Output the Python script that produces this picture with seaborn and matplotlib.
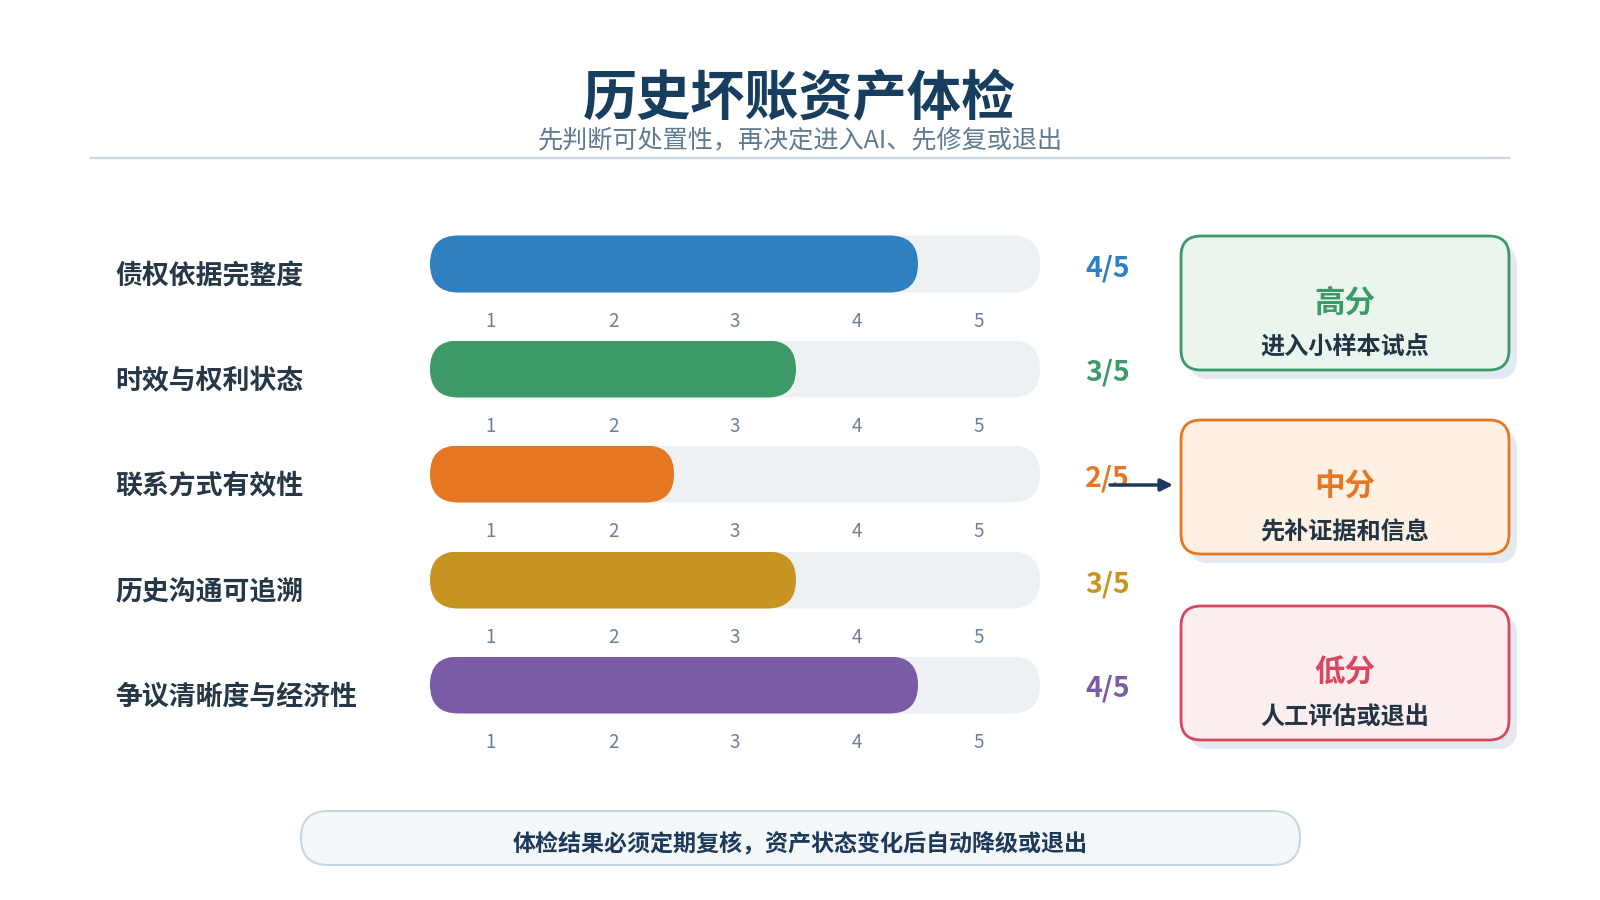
#!/usr/bin/env python3

import matplotlib
matplotlib.use("Agg")
import matplotlib.pyplot as plt
from matplotlib.patches import FancyBboxPatch
import seaborn as sns


title = "历史坏账资产体检"
subtitle = "先判断可处置性，再决定进入AI、先修复或退出"
criteria = ["债权依据完整度", "时效与权利状态", "联系方式有效性", "历史沟通可追溯", "争议清晰度与经济性"]
scores = [4, 3, 2, 3, 4]
max_score = 5
bar_colors = ["#2f80c0", "#3d9a68", "#e67722", "#c89421", "#7b5ba5"]
tiers = ["高分", "中分", "低分"]
tier_actions = ["进入小样本试点", "先补证据和信息", "人工评估或退出"]
tier_edges = ["#3d9a68", "#e67722", "#d9475f"]
tier_fills = ["#e9f5ed", "#fef1e4", "#fcedef"]
footer = "体检结果必须定期复核，资产状态变化后自动降级或退出"

sns.set_theme(style="white")
plt.rcParams["font.family"] = ["Noto Sans CJK SC", "DejaVu Sans"]

W, H = 1600, 900
track_left, track_w, bar_h = 430, 610, 57
row_centers = [264, 369, 474, 580, 685]
track_color = "#edf1f4"
dark = "#263747"
navy = "#173d5f"

fig = plt.figure(figsize=(16, 9), dpi=100)
fig.patch.set_facecolor("white")

# overlay in pixel units for decoration
deco = fig.add_axes([0, 0, 1, 1], zorder=0)
deco.set_xlim(0, W)
deco.set_ylim(H, 0)
deco.axis("off")

deco.text(799, 100, title, ha="center", va="center", fontsize=39, fontweight="bold", color=navy)
deco.text(800, 140, subtitle, ha="center", va="center", fontsize=18.1, color="#607a92")
deco.plot([90, 1510], [158, 158], color="#cbd8e3", lw=1.6)

px_per_unit = track_w / max_score
radius = (bar_h / 2) / px_per_unit

for label, score, color, cy in zip(criteria, scores, bar_colors, row_centers):
    ax = fig.add_axes([track_left / W, 1 - (cy + bar_h / 2) / H, track_w / W, bar_h / H], zorder=2)
    ax.patch.set_alpha(0)
    sns.barplot(x=[max_score], y=[label], orient="h", color=track_color, saturation=1, width=1, ax=ax)
    sns.barplot(x=[score], y=[label], orient="h", color=color, saturation=1, width=1, ax=ax)
    ax.set_xlim(0, max_score)
    ax.set_ylim(0.5, -0.5)

    # turn the flat bars into pills
    for p in list(ax.patches):
        x0, y0, w, h = p.get_x(), p.get_y(), p.get_width(), p.get_height()
        fc = p.get_facecolor()
        p.remove()
        ax.add_patch(FancyBboxPatch((x0, y0), w, h,
                                    boxstyle=f"round,pad=0,rounding_size={radius}",
                                    mutation_aspect=px_per_unit / bar_h,
                                    facecolor=fc, edgecolor="none"))

    ax.set_xticks([i - 0.5 for i in range(1, max_score + 1)])
    ax.set_xticklabels([str(i) for i in range(1, max_score + 1)])
    ax.set_yticks([])
    ax.set_xlabel("")
    ax.set_ylabel("")
    ax.tick_params(axis="x", length=0, pad=13, labelsize=13.5, labelcolor="#6c8198")
    for s in ax.spines.values():
        s.set_visible(False)

    deco.text(115, cy + 12, label, ha="left", va="center", fontsize=19.4, fontweight="bold", color=dark)
    deco.text(1085, cy + 4, f"{score}/{max_score}", ha="left", va="center",
              fontsize=20.5, fontweight="bold", color=color)

# tier boxes on the right
box_tops = [236, 420, 606]
box_x, box_w, box_h = 1181, 328, 134
for name, action, edge, fill, top in zip(tiers, tier_actions, tier_edges, tier_fills, box_tops):
    deco.add_patch(FancyBboxPatch((box_x + 8, top + 9), box_w, box_h,
                                  boxstyle="round,pad=0,rounding_size=20",
                                  facecolor="#e4e9f1", edgecolor="none"))
    deco.add_patch(FancyBboxPatch((box_x, top), box_w, box_h,
                                  boxstyle="round,pad=0,rounding_size=20",
                                  facecolor=fill, edgecolor=edge, lw=2))
    deco.text(box_x + box_w / 2, top + 67, name, ha="center", va="center",
              fontsize=22, fontweight="bold", color=edge)
    deco.text(box_x + box_w / 2, top + 112, action, ha="center", va="center",
              fontsize=17.4, fontweight="bold", color="#223545")

deco.annotate("", xy=(1173, 485), xytext=(1110, 485),
              arrowprops=dict(arrowstyle="-|>", color="#1b3a5c", lw=2.5, mutation_scale=18,
                              shrinkA=0, shrinkB=0))

# footer note
deco.add_patch(FancyBboxPatch((301, 811), 999, 54,
                              boxstyle="round,pad=0,rounding_size=27",
                              facecolor="#f4f8fb", edgecolor="#c8d5e2", lw=1.5))
deco.text(800, 845, footer, ha="center", va="center", fontsize=16.6, fontweight="bold", color="#1d3a5a")

plt.savefig("out.png", dpi=100)
plt.close()
